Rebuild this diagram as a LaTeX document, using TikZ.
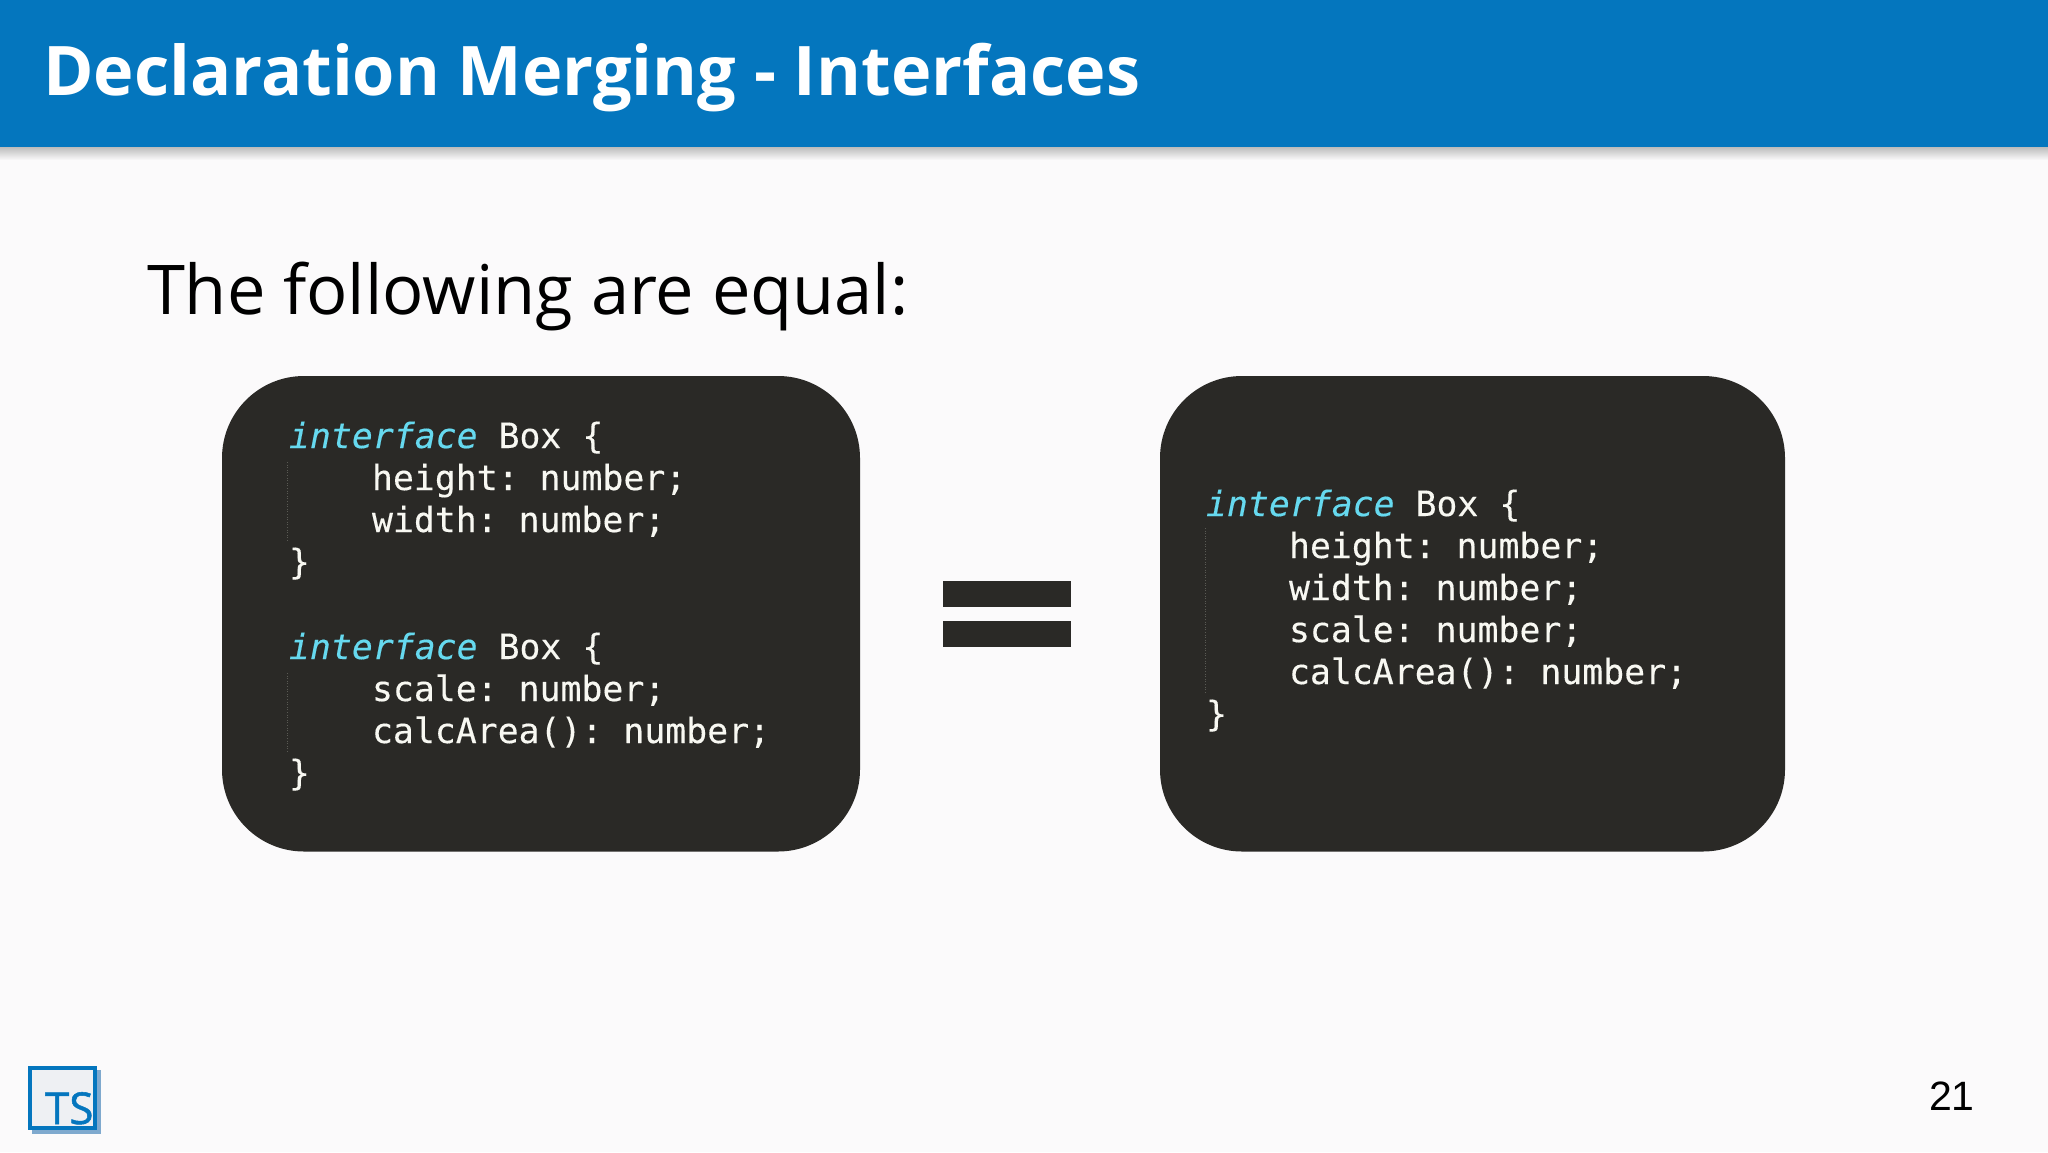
\documentclass[tikz,border=0pt]{standalone}
\usepackage{fontspec}
\setmainfont{Open Sans}
\newfontfamily\codefont[FakeBold=0.25]{DejaVu Sans Mono}
\newfontfamily\kwfont[FakeBold=0.25]{DejaVu Sans Mono Oblique}
\newfontfamily\numfont{Liberation Sans}
\definecolor{pagebg}{HTML}{FBFAFB}
\definecolor{headblue}{HTML}{0476BE}
\definecolor{codebg}{HTML}{2A2926}
\definecolor{codefg}{HTML}{F8F8F2}
\definecolor{kw}{HTML}{66D9EF}
\definecolor{guide}{HTML}{5A5A54}
\definecolor{logoshadow}{HTML}{7FA9CE}
\definecolor{logofill}{HTML}{EEF0F3}
\newcommand{\kwd}{{\kwfont\color{kw}interface}}
\frenchspacing
\tikzset{
  txt/.style={anchor=base west,inner sep=0pt,outer sep=0pt},
  codeline/.style={txt,text=codefg,font=\codefont\fontsize{34.8}{40}\selectfont},
  codebox/.style={fill=codebg,draw=none,rounded corners=82pt},
  indentguide/.style={draw=guide,line width=0.6pt,dotted},
  eqbar/.style={fill=codebg,draw=none}
}
\begin{document}
\begin{tikzpicture}[x=1pt,y=-1pt]
\useasboundingbox (0,0) rectangle (2048,1152);
\fill[pagebg] (0,0) rectangle (2048,1152);
\shade[top color=black!28,bottom color=pagebg] (0,146) rectangle (2048,160);
\fill[headblue] (0,0) rectangle (2048,146.5);
\node[txt,text=white,font=\bfseries\fontsize{68.4}{72}\selectfont] (title) at (43,95) {Declaration Merging - Interfaces};
\node[txt,text=black,font=\fontsize{68.6}{72}\selectfont] (sub) at (147,314.5) {The following are equal:};
% left box
\fill[codebox] (222,376) rectangle (860,851.5);
\node[codeline] (l1) at (289,448) {\kwd{} Box \{};
\node[codeline] (l2) at (372,490) {height: number;};
\node[codeline] (l3) at (372,532) {width: number;};
\node[codeline] (l4) at (289,574) {\}};
\node[codeline] (l5) at (289,659) {\kwd{} Box \{};
\node[codeline] (l6) at (372,701) {scale: number;};
\node[codeline] (l7) at (372,743) {calcArea(): number;};
\node[codeline] (l8) at (289,785) {\}};
\draw[indentguide] (287.5,462) -- (287.5,542);
\draw[indentguide] (287.5,673) -- (287.5,753);
% equals
\fill[eqbar] (943,581) rectangle (1071,607);
\fill[eqbar] (943,621) rectangle (1071,647);
% right box
\fill[codebox] (1160,376) rectangle (1785,851.5);
\node[codeline] (r1) at (1206,516) {\kwd{} Box \{};
\node[codeline] (r2) at (1289,558) {height: number;};
\node[codeline] (r3) at (1289,600) {width: number;};
\node[codeline] (r4) at (1289,642) {scale: number;};
\node[codeline] (r5) at (1289,684) {calcArea(): number;};
\node[codeline] (r6) at (1206,726) {\}};
\draw[indentguide] (1205,528) -- (1205,693);
% logo
\fill[logoshadow] (32,1070) rectangle (101,1134);
\fill[logofill] (28,1066) rectangle (97,1130);
\draw[headblue,line width=4.5pt] (30.2,1068.2) rectangle (94.8,1127.8);
\node[txt,text=headblue,font=\fontsize{44}{46}\selectfont] (ts) at (45,1124) {\addfontfeature{FakeBold=1.2}TS};
% page number
\node[txt,text=black,font=\numfont\fontsize{41}{44}\selectfont] (num) at (1929,1110.5) {21};
\end{tikzpicture}
\end{document}
